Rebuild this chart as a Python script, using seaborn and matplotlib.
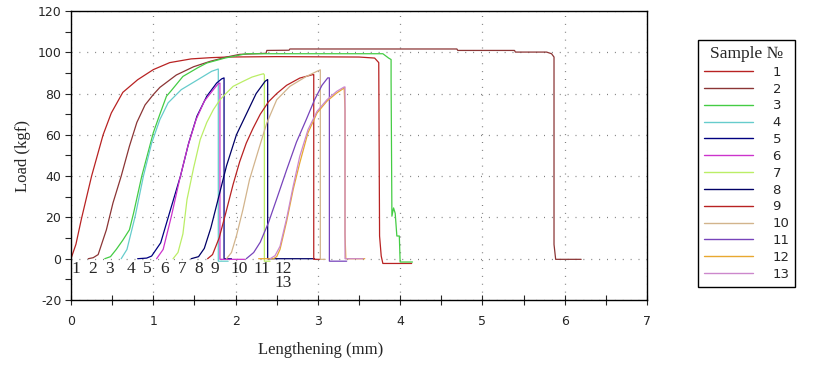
import matplotlib
matplotlib.use('Agg')
import matplotlib.pyplot as plt
from matplotlib.ticker import MultipleLocator
import numpy as np
import pandas as pd
import seaborn as sns

samples = [str(i) for i in range(1, 14)]
colors = ['#B82222', '#8B3535', '#44CC44', '#66CCCC', '#000080', '#CC33CC', '#BBEE66',
          '#000066', '#B82222', '#D2B48C', '#7744BB', '#E8A830', '#CC88CC']

# lengthening (mm) / load (kgf), one curve per sample
x1 = [0.0, 0.06, 0.125, 0.25, 0.39, 0.49, 0.63, 0.81, 1.0, 1.2, 1.46, 1.7, 1.9, 2.5, 3.0, 3.5, 3.69, 3.74, 3.75, 3.77, 3.79, 4.14]
y1 = [0, 7, 19, 40, 60, 70.6, 80.6, 86.7, 91.6, 95.0, 96.8, 97.4, 97.7, 97.9, 97.8, 97.7, 97.2, 95, 11, 1.3, -2.3, -2.3]
x2 = [0.21, 0.27, 0.33, 0.43, 0.51, 0.61, 0.71, 0.80, 0.90, 1.0, 1.08, 1.28, 1.49, 1.69, 1.89, 2.05, 2.37, 2.38, 2.65, 2.66,
      4.69, 4.70, 5.39, 5.40, 5.78, 5.84, 5.87, 5.87, 5.89, 6.2]
y2 = [0, 0.5, 2, 14, 27, 40, 54.5, 66, 74.5, 79.5, 83, 89, 93, 95.6, 97.7, 99, 99.5, 100.9, 101, 101.6,
      101.6, 100.9, 100.9, 100.1, 100.1, 99.3, 97.7, 6.9, -0.3, -0.3]
x3 = [0.41, 0.48, 0.55, 0.63, 0.71, 0.76, 0.86, 1.0, 1.08, 1.16, 1.22, 1.36, 1.54, 1.65, 1.87, 1.97, 2.13,
      3.79, 3.86, 3.89, 3.89, 3.90, 3.92, 3.94, 3.96, 3.99, 4.0, 4.15]
y3 = [0, 1, 4.5, 9, 14, 22, 40, 61, 70, 78.7, 81.5, 88.3, 92.5, 94.8, 97.2, 98, 99.3,
      99.3, 97.2, 96.5, 85.9, 20.6, 24.6, 22, 11, 11, -1.6, -1.6]
x4 = [0.61, 0.68, 0.78, 0.88, 0.98, 1.08, 1.18, 1.34, 1.54, 1.71, 1.79, 1.79, 1.91]
y4 = [0, 4.5, 20.6, 40, 56, 67.4, 75.5, 81.9, 86.7, 90.8, 91.9, -1.2, -1.2]
x5 = [0.81, 0.92, 0.98, 1.09, 1.21, 1.33, 1.43, 1.53, 1.65, 1.77, 1.83, 1.86, 1.86, 1.95]
y5 = [0, 0.3, 1.3, 7.7, 23.9, 40, 56, 69, 78.7, 85.1, 87.1, 87.6, 0, 0]
x6 = [1.04, 1.12, 1.22, 1.32, 1.42, 1.52, 1.62, 1.73, 1.79, 1.81, 1.81, 2.11]
y6 = [0, 4.5, 20.6, 38.4, 54.5, 67.4, 76.3, 81.9, 84.8, 85.1, -0.3, -0.3]
x7 = [1.24, 1.30, 1.36, 1.41, 1.49, 1.57, 1.65, 1.73, 1.81, 1.89, 1.97, 2.09, 2.20, 2.30, 2.34, 2.35, 2.35, 2.42]
y7 = [0, 3, 12, 28.7, 44, 57.7, 66, 72.2, 77, 80.3, 83.5, 85.9, 88, 89.2, 89.6, 89, -1.2, -1.2]
x8 = [1.46, 1.55, 1.62, 1.70, 1.77, 1.89, 2.01, 2.13, 2.25, 2.36, 2.39, 2.39, 2.96]
y8 = [0, 1, 5, 15, 26, 45, 60, 70, 80, 86, 86.8, 0, 0]
x9 = [1.66, 1.72, 1.80, 1.88, 1.97, 2.05, 2.13, 2.21, 2.30, 2.40, 2.50, 2.62, 2.78, 2.94, 2.95, 2.95, 3.03]
y9 = [0, 2, 10, 22, 36, 47, 56, 63, 70, 76, 80, 84, 87.5, 89.2, 89.2, -0.3, -0.3]
x10 = [1.89, 1.95, 2.01, 2.09, 2.17, 2.28, 2.38, 2.50, 2.66, 2.86, 2.99, 3.03, 3.03, 3.09]
y10 = [0, 3, 11, 23.9, 38.4, 52.9, 65.8, 77, 83.5, 88.3, 90.8, 91.5, -0.3, -0.3]
x11 = [2.13, 2.22, 2.30, 2.40, 2.50, 2.62, 2.74, 2.86, 2.96, 3.05, 3.12, 3.14, 3.14, 3.35]
y11 = [0, 3, 8, 17.5, 29, 43, 56.5, 67.5, 77, 84, 87.6, 87.6, -1.2, -1.2]
x12 = [2.28, 2.46, 2.50, 2.54, 2.62, 2.70, 2.78, 2.88, 2.99, 3.11, 3.23, 3.32, 3.33, 3.33, 3.34, 3.57]
y12 = [0, 0, 1, 4.5, 18, 33.5, 46.4, 61, 70.6, 76.3, 80.3, 82.7, 72, 12, 0, 0]
x13 = [2.42, 2.48, 2.54, 2.62, 2.70, 2.78, 2.88, 2.99, 3.11, 3.23, 3.32, 3.33, 3.33, 3.55]
y13 = [0, 1.5, 6, 19.4, 35.1, 49.6, 62.5, 71.4, 77, 81.1, 83.2, 83.2, 0, 0]

# where the software printed the sample numbers under the curves
label_x = [0.0, 0.21, 0.42, 0.67, 0.875, 1.085, 1.30, 1.50, 1.70, 1.94, 2.22, 2.47, 2.47]
label_row = [0, 0, 0, 0, 0, 0, 0, 0, 0, 0, 0, 0, 1]

xs = [x1, x2, x3, x4, x5, x6, x7, x8, x9, x10, x11, x12, x13]
ys = [y1, y2, y3, y4, y5, y6, y7, y8, y9, y10, y11, y12, y13]

frames = []
for s, x, y in zip(samples, xs, ys):
    frames.append(pd.DataFrame({'x': x, 'load': y, 'sample': s, 'order': np.arange(len(x))}))
df = pd.concat(frames, ignore_index=True)

sns.set_style('ticks')
plt.rcParams['font.family'] = ['DejaVu Sans']
plt.rcParams['axes.unicode_minus'] = False
serif = ['Liberation Serif', 'DejaVu Serif']

fig = plt.figure(figsize=(8.13, 3.67), dpi=100)
ax = fig.add_axes([71 / 813, 1 - 300 / 367, 576 / 813, 289 / 367])

sns.lineplot(data=df, x='x', y='load', hue='sample', hue_order=samples,
             palette=dict(zip(samples, colors)), sort=False, estimator=None,
             linewidth=0.9, ax=ax, legend='full')

for s, lx, row in zip(samples, label_x, label_row):
    ax.text(lx, -1.0 - row * 7.0, s, ha='left', va='top', fontsize=12.5, family=serif)

ax.set_xlim(0, 7)
ax.set_ylim(-20, 120)
ax.xaxis.set_major_locator(MultipleLocator(1))
ax.xaxis.set_minor_locator(MultipleLocator(0.5))
ax.yaxis.set_major_locator(MultipleLocator(20))
ax.yaxis.set_minor_locator(MultipleLocator(10))
ax.tick_params(axis='x', which='both', direction='inout', length=7, width=0.8, labelsize=9, pad=7)
ax.tick_params(axis='y', which='both', direction='out', length=4, width=0.8, labelsize=9, pad=3)
ax.grid(True, which='major', color='#808080', linestyle=(0, (0.8, 5.5)), linewidth=0.9)
for sp in ax.spines.values():
    sp.set_visible(True)
    sp.set_color('black')
    sp.set_linewidth(1)

ax.set_xlabel('Lengthening (mm)', fontsize=12, family=serif)
ax.set_ylabel('Load (kgf)', fontsize=12, family=serif)
ax.xaxis.set_label_coords(0.434, -0.145)
ax.yaxis.set_label_coords(-0.069, 0.5)

sns.move_legend(ax, 'upper left', bbox_to_anchor=(698 / 813, 1 - 40 / 367),
                bbox_transform=fig.transFigure, borderaxespad=0, title='Sample №',
                frameon=True, fancybox=False, framealpha=1, edgecolor='black',
                fontsize=9.5, handlelength=3.7, handletextpad=1.5, labelspacing=0.29,
                borderpad=0.45)
leg = ax.get_legend()
leg.get_title().set_fontfamily(serif)
leg.get_title().set_fontsize(12.5)
leg.get_frame().set_linewidth(1)
for line in leg.get_lines():
    line.set_linewidth(1)

fig.savefig('out.png', dpi=100)
